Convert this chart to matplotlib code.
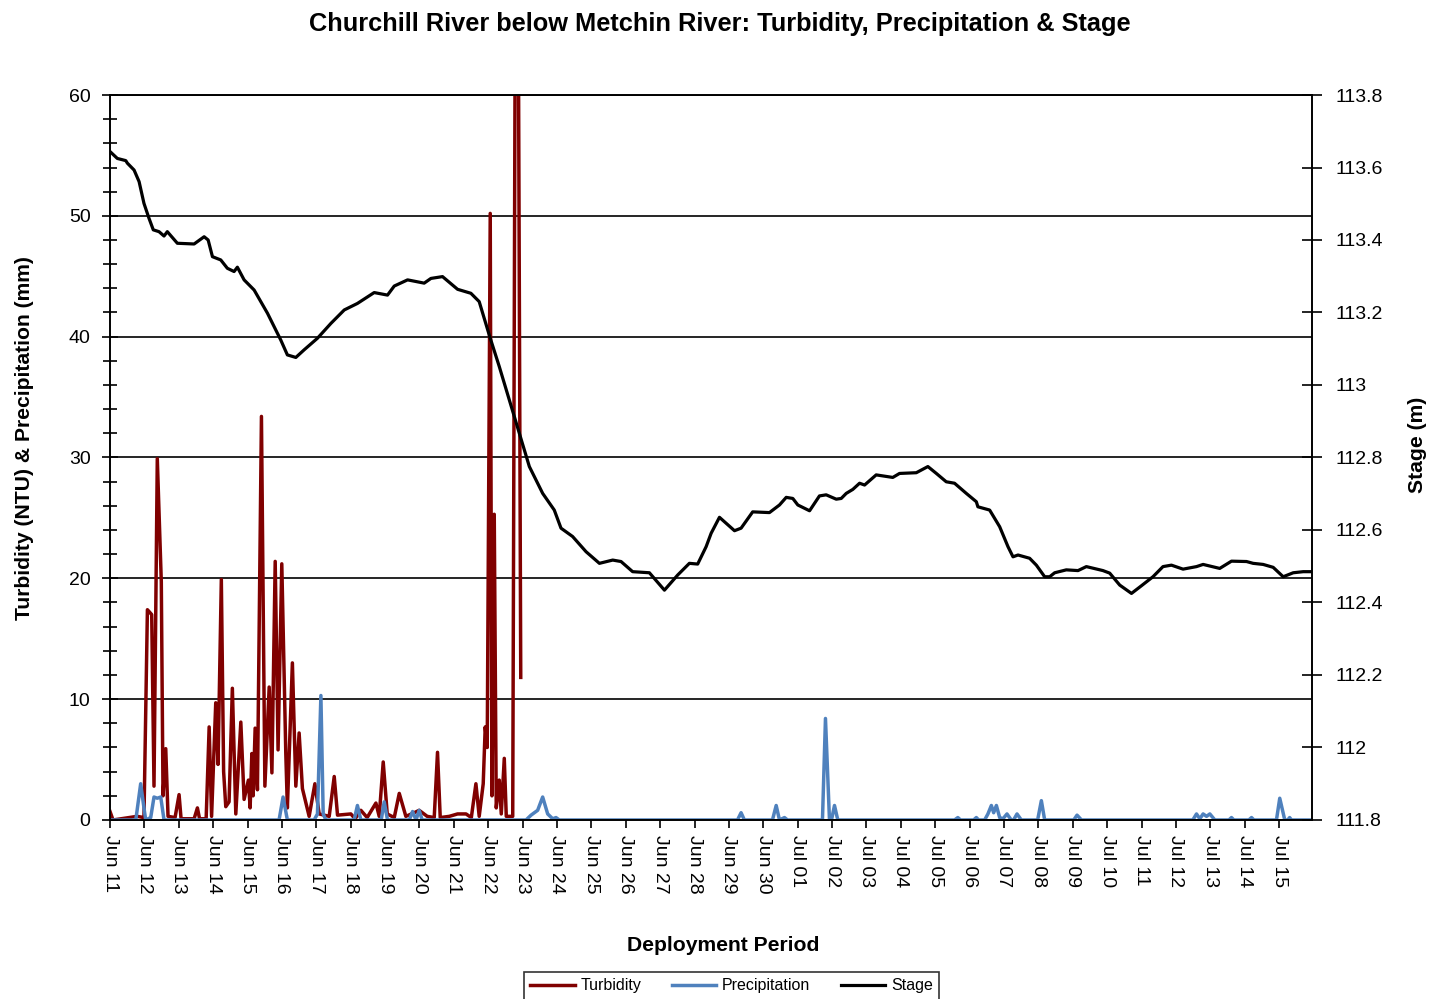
import numpy as np
import pandas as pd
import matplotlib
matplotlib.use("Agg")
import matplotlib.pyplot as plt
import matplotlib.dates as mdates
from matplotlib.ticker import MultipleLocator, FuncFormatter

plt.rcParams['font.family'] = ['Liberation Sans', 'DejaVu Sans']

# deployment start; all series are hours since this time
start = pd.Timestamp("2012-06-11 00:00")
end_hour = 839

# stage (m)
stage_hours = [0, 5.1, 11.0, 12.1, 16.8, 20.3, 23.7, 27.2, 30.2, 34.2, 37.7, 40.0, 47.0, 58.7,
               65.7, 68.5, 71.5, 77.3, 81.9, 86.6, 88.9, 93.6, 100.6, 109.9, 119.2, 123.8, 129.7,
               135.5, 144.8, 154.2, 163.5, 172.7, 184.4, 193.7, 198.4, 207.7, 219.3, 224.0, 232.1,
               242.6, 251.9, 257.7, 264.7, 271.7, 278.7, 285.7, 292.7, 302.0, 310.1, 314.8, 322.9,
               332.3, 341.6, 350.9, 356.7, 364.8, 376.5, 387.0, 396.3, 404.4, 410.2, 416.1, 419.6,
               425.4, 435.9, 440.5, 448.6, 460.3, 467.3, 472.0, 476.6, 480.1, 488.3, 495.2, 499.9,
               506.9, 510.4, 513.9, 518.5, 523.2, 526.7, 534.8, 546.4, 551.1, 562.8, 570.9, 576.8,
               583.7, 589.5, 597.7, 604.7, 605.8, 614.0, 621.0, 626.8, 630.3, 633.8, 641.9, 646.6,
               652.4, 655.9, 659.4, 667.5, 675.7, 681.5, 693.1, 697.8, 704.8, 713.0, 719.9, 728.0,
               735.0, 740.9, 749.0, 758.4, 763.0, 774.6, 782.8, 793.3, 797.9, 804.9, 811.9, 818.9,
               825.9, 832.9, 838.7]
stage_m = [113.644, 113.625, 113.619, 113.612, 113.593, 113.561, 113.501, 113.460, 113.428,
           113.423, 113.411, 113.423, 113.391, 113.389, 113.409, 113.400, 113.354, 113.345,
           113.322, 113.313, 113.325, 113.290, 113.262, 113.198, 113.124, 113.083, 113.076,
           113.097, 113.129, 113.170, 113.207, 113.225, 113.255, 113.248, 113.273, 113.290,
           113.281, 113.294, 113.299, 113.264, 113.253, 113.230, 113.138, 113.051, 112.959,
           112.867, 112.775, 112.701, 112.655, 112.605, 112.582, 112.540, 112.508, 112.517,
           112.513, 112.485, 112.482, 112.434, 112.476, 112.508, 112.506, 112.554, 112.591,
           112.635, 112.598, 112.605, 112.650, 112.648, 112.669, 112.690, 112.687, 112.669,
           112.653, 112.694, 112.697, 112.685, 112.687, 112.701, 112.712, 112.729, 112.724,
           112.752, 112.745, 112.756, 112.758, 112.775, 112.756, 112.733, 112.729, 112.701,
           112.678, 112.664, 112.655, 112.609, 112.554, 112.526, 112.531, 112.522, 112.503,
           112.471, 112.471, 112.482, 112.490, 112.488, 112.499, 112.488, 112.481, 112.448,
           112.425, 112.446, 112.471, 112.499, 112.503, 112.492, 112.499, 112.505, 112.494,
           112.514, 112.513, 112.508, 112.505, 112.497, 112.471, 112.482, 112.485, 112.485]

# turbidity (NTU) - probe record ends on Jun 23
turb_hours = [0, 2.1, 18.9, 23.7, 26.1, 29.1, 30.7, 33.0, 35.8, 37.0, 38.9, 40.5, 45.4, 48.2,
              49.6, 58.7, 61.0, 62.5, 67.1, 69.2, 70.9, 73.8, 75.4, 77.7, 79.3, 80.8, 83.1,
              85.4, 87.8, 91.3, 93.6, 96.6, 97.8, 99.0, 99.9, 101.3, 102.9, 105.7, 108.1, 111.1,
              113.0, 115.3, 117.3, 119.9, 122.7, 123.8, 127.3, 129.7, 132.0, 134.3, 139.0, 143.0,
              146.0, 153.0, 156.5, 158.8, 168.1, 171.1, 175.1, 179.5, 185.6, 187.9, 190.7, 193.5,
              198.4, 201.9, 206.5, 212.3, 215.8, 221.4, 226.3, 228.6, 230.5, 236.8, 242.6, 248.5,
              252.2, 255.4, 257.7, 260.5, 261.9, 263.3, 265.4, 266.6, 268.2, 269.6, 271.7, 273.1,
              275.2, 276.6, 281.1, 283.2, 284.9, 286.7]
turb_ntu = [0.7, 0.0, 0.3, 0.2, 17.4, 17.0, 2.8, 29.9, 19.7, 2.0, 5.9, 0.3, 0.2, 2.1,
            0.1, 0.1, 1.0, 0.1, 0.1, 7.7, 0.3, 9.7, 4.6, 19.9, 4.0, 1.1, 1.5,
            10.9, 0.5, 8.1, 1.7, 3.3, 1.0, 5.5, 2.0, 7.6, 2.5, 33.4, 2.8, 11.0,
            3.9, 21.4, 5.8, 21.2, 5.5, 1.0, 13.0, 2.8, 7.2, 2.6, 0.3, 3.0,
            0.5, 0.3, 3.6, 0.4, 0.5, 0.1, 0.8, 0.2, 1.4, 0.3, 4.8, 0.5,
            0.2, 2.2, 0.3, 0.6, 0.8, 0.3, 0.2, 5.6, 0.2, 0.3, 0.5, 0.5,
            0.2, 3.0, 0.3, 3.0, 7.7, 6.0, 50.2, 2.0, 25.3, 1.0, 3.3, 0.5,
            5.1, 0.3, 0.3, 80.0, 70.0, 11.8]

# precipitation (mm)
precip_hours = [0, 18.0, 21.4, 23.7, 24.9, 28.4, 30.7, 33.0, 35.4, 37.7, 118.0, 120.8, 123.8,
                142.5, 144.8, 147.2, 148.8, 150.7, 170.4, 172.7, 175.1, 189.3, 191.4, 193.7,
                208.9, 211.2, 213.6, 215.8, 217.9, 290.4, 293.9, 298.5, 302.0, 305.5, 309.0,
                311.3, 313.6, 438.0, 440.5, 442.8, 462.4, 465.0, 467.3, 470.8, 472.9, 497.3,
                499.4, 502.2, 503.6, 505.7, 508.0, 589.5, 591.8, 593.7, 602.8, 604.7, 606.3,
                610.5, 612.8, 615.2, 616.8, 618.7, 621.0, 623.3, 626.1, 629.1, 630.7, 633.1,
                636.1, 647.5, 650.1, 652.4, 672.7, 675.0, 678.1, 755.8, 758.4, 760.7, 763.0,
                765.4, 767.7, 771.2, 781.0, 782.8, 784.5, 794.9, 796.8, 798.5, 814.2, 816.5,
                820.0, 822.1, 823.4, 824.7, 838.9]
precip_mm = [0, 0, 3.0, 1.0, 0, 0.2, 1.9, 1.8, 1.9, 0, 0, 1.9, 0,
             0, 0.5, 10.3, 0.5, 0, 0, 1.2, 0, 0, 1.5, 0,
             0, 0.7, 0, 0.8, 0, 0, 0.4, 0.8, 1.9, 0.5, 0.1,
             0.2, 0, 0, 0.6, 0, 0, 1.2, 0, 0.2, 0, 0,
             8.4, 0, 0, 1.2, 0, 0, 0.2, 0, 0, 0.2, 0,
             0, 0.5, 1.2, 0.6, 1.2, 0.2, 0.1, 0.5, 0, 0, 0.5,
             0, 0, 1.6, 0, 0, 0.4, 0, 0, 0.5, 0.1, 0.5,
             0.3, 0.5, 0, 0, 0.2, 0, 0, 0.2, 0, 0, 1.8,
             0, 0, 0.2, 0, 0]

assert len(stage_hours) == len(stage_m)
assert len(turb_hours) == len(turb_ntu)
assert len(precip_hours) == len(precip_mm)


def to_time(hours):
    return start + pd.to_timedelta(np.asarray(hours), unit="h")


fig = plt.figure(figsize=(14.4, 9.99), dpi=100)
ax = fig.add_axes([0.0764, 0.1792, 0.8347, 0.7257])
ax2 = ax.twinx()

ln_t, = ax.plot(to_time(turb_hours), turb_ntu, color="#800000", lw=2.5, label="Turbidity")
ln_p, = ax.plot(to_time(precip_hours), precip_mm, color="#4F81BD", lw=2.5, label="Precipitation")
ln_s, = ax2.plot(to_time(stage_hours), stage_m, color="black", lw=2.3, label="Stage")

# left axis
ax.set_ylim(0, 60)
ax.yaxis.set_major_locator(MultipleLocator(10))
ax.yaxis.set_minor_locator(MultipleLocator(2))
ax.grid(axis="y", which="major", color="black", lw=1.2)
ax.tick_params(axis="y", which="major", direction="inout", length=12, width=1.2,
               labelsize=14, pad=8)
ax.tick_params(axis="y", which="minor", direction="inout", length=10, width=1.2)
ax.set_ylabel("Turbidity (NTU) & Precipitation (mm)", fontsize=15.2, fontweight="bold")
ax.yaxis.set_label_coords(-0.063, 0.527)

# right axis
ax2.set_ylim(111.8, 113.8)
ax2.yaxis.set_major_locator(MultipleLocator(0.2))
ax2.yaxis.set_major_formatter(FuncFormatter(lambda v, p: f"{round(v, 1):g}"))
ax2.tick_params(axis="y", direction="inout", length=14, width=1.2, labelsize=14, pad=10)
ax2.set_ylabel("Stage (m)", fontsize=15.2, fontweight="bold")
ax2.yaxis.set_label_coords(1.080, 0.517)

# date axis
ax.set_xlim(to_time([0])[0], to_time([end_hour])[0])
ax.xaxis.set_major_locator(mdates.DayLocator())
ax.xaxis.set_major_formatter(mdates.DateFormatter("%b %d"))
ax.tick_params(axis="x", direction="out", length=6, width=1.2, labelsize=14, pad=5)
for lbl in ax.get_xticklabels():
    lbl.set_rotation(270)
    lbl.set_va("top")
    lbl.set_ha("center")
ax.set_xlabel("Deployment Period", fontsize=15.2, fontweight="bold")
ax.xaxis.set_label_coords(0.510, -0.160)

for a in (ax, ax2):
    for sp in a.spines.values():
        sp.set_linewidth(1.2)
        sp.set_color("black")

fig.text(0.5, 0.976, "Churchill River below Metchin River: Turbidity, Precipitation & Stage",
         fontsize=18.3, fontweight="bold", ha="center", va="center")

leg = fig.legend(handles=[ln_t, ln_p, ln_s], loc="upper center", ncol=3,
                 bbox_to_anchor=(0.508, 0.027), borderaxespad=0, fontsize=11.5,
                 frameon=True, fancybox=False, edgecolor="black", handlelength=2.8,
                 handletextpad=0.35, columnspacing=1.9, borderpad=0.4)
leg.get_frame().set_linewidth(1.2)

fig.savefig("out.png", dpi=100)
